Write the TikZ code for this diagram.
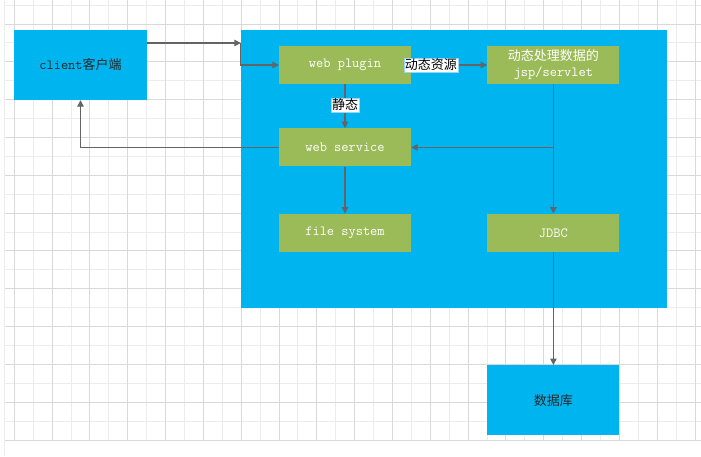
\documentclass[tikz,border=0pt]{standalone}
\usepackage{fontspec}
\newfontfamily\cjk{Noto Sans CJK SC}
\usepackage{xcolor}
\usepackage{tikz}
\usetikzlibrary{positioning,arrows.meta}

\definecolor{boxblue}{RGB}{0,180,240}
\definecolor{leafgreen}{RGB}{155,187,89}
\definecolor{linegray}{RGB}{100,100,100}
\definecolor{textdark}{RGB}{40,40,40}
\definecolor{tagline}{RGB}{150,215,245}
\definecolor{gridmajor}{RGB}{217,217,217}
\definecolor{gridminor}{RGB}{236,236,236}

\newcommand{\codefont}{\ttfamily\fontsize{14}{16}\selectfont}

\begin{document}
\begin{tikzpicture}[
        x=1pt, y=-1pt,
        every node/.style={inner sep=0pt, font=\fontsize{13}{16}\selectfont},
        bluebox/.style={
            fill=boxblue,
            minimum width=133pt,
            minimum height=70pt,
            text=textdark
        },
        greenbox/.style={
            fill=leafgreen,
            minimum width=132pt,
            minimum height=38pt,
            align=center,
            text=white
        },
        tag/.style={fill=white, draw=tagline, line width=0.6pt, inner sep=1pt, text=black},
        link/.style={-{Triangle[length=6.5pt,width=6.5pt]}, draw=linegray, line width=1.1pt}
    ]
        \useasboundingbox (0,0) rectangle (701,456);

        \draw[gridminor, line width=1pt] (4.5,0) -- (4.5,456);
        \foreach \i in {-1,...,22}
            \draw[gridminor, line width=1pt] (4.5,{24+18.91*\i}) -- (701,{24+18.91*\i});
        \foreach \i in {0,...,36}
            \draw[gridminor, line width=1pt] ({14.3+18.91*\i},0) -- ({14.3+18.91*\i},440.3);
        \foreach \i in {0,...,11}
            \draw[gridmajor, line width=1pt] (4.5,{24+37.82*\i}) -- (701,{24+37.82*\i});
        \foreach \i in {0,...,18}
            \draw[gridmajor, line width=1pt] ({14.3+37.82*\i},0) -- ({14.3+37.82*\i},440.3);

        \node[fill=boxblue, minimum width=426pt, minimum height=278pt] (server) at (454,169) {};

        \node[bluebox] (client) at (80.5,65) {{\codefont client}\cjk 客户端};

        \node[greenbox] (plugin) at (345,65) {\codefont web plugin};
        \node[greenbox, right=76pt of plugin] (jsp) {{\cjk 动态处理数据的}\\\codefont jsp/servlet};
        \node[greenbox, below=44pt of plugin] (service) {\codefont web service};
        \node[greenbox, below=47pt of service] (filesys) {\codefont file system};
        \node[greenbox, right=76pt of filesys] (jdbc) {\codefont JDBC};
        \node[bluebox, minimum width=132pt, below=113pt of jdbc] (database) {\cjk 数据库};

        \coordinate (entry) at (server.west |- 0,43);

        \draw[link] (client.east |- entry) -- (entry);
        \draw[link] (entry) |- (plugin.west);
        \draw[link] (plugin) -- node[tag, pos=0.47] {\cjk 静态} (service);
        \draw[link] (plugin) -- node[tag, pos=0.26] {\cjk 动态资源} (jsp);
        \draw[link] (service) -- (filesys);
        \draw[link] (jsp) -- (jdbc);
        \draw[link] (jsp.south |- service.east) -- (service.east);
        \draw[link] (service.west) -| (client.south);
        \draw[link] (jdbc) -- (database);
    \end{tikzpicture}
\end{document}
